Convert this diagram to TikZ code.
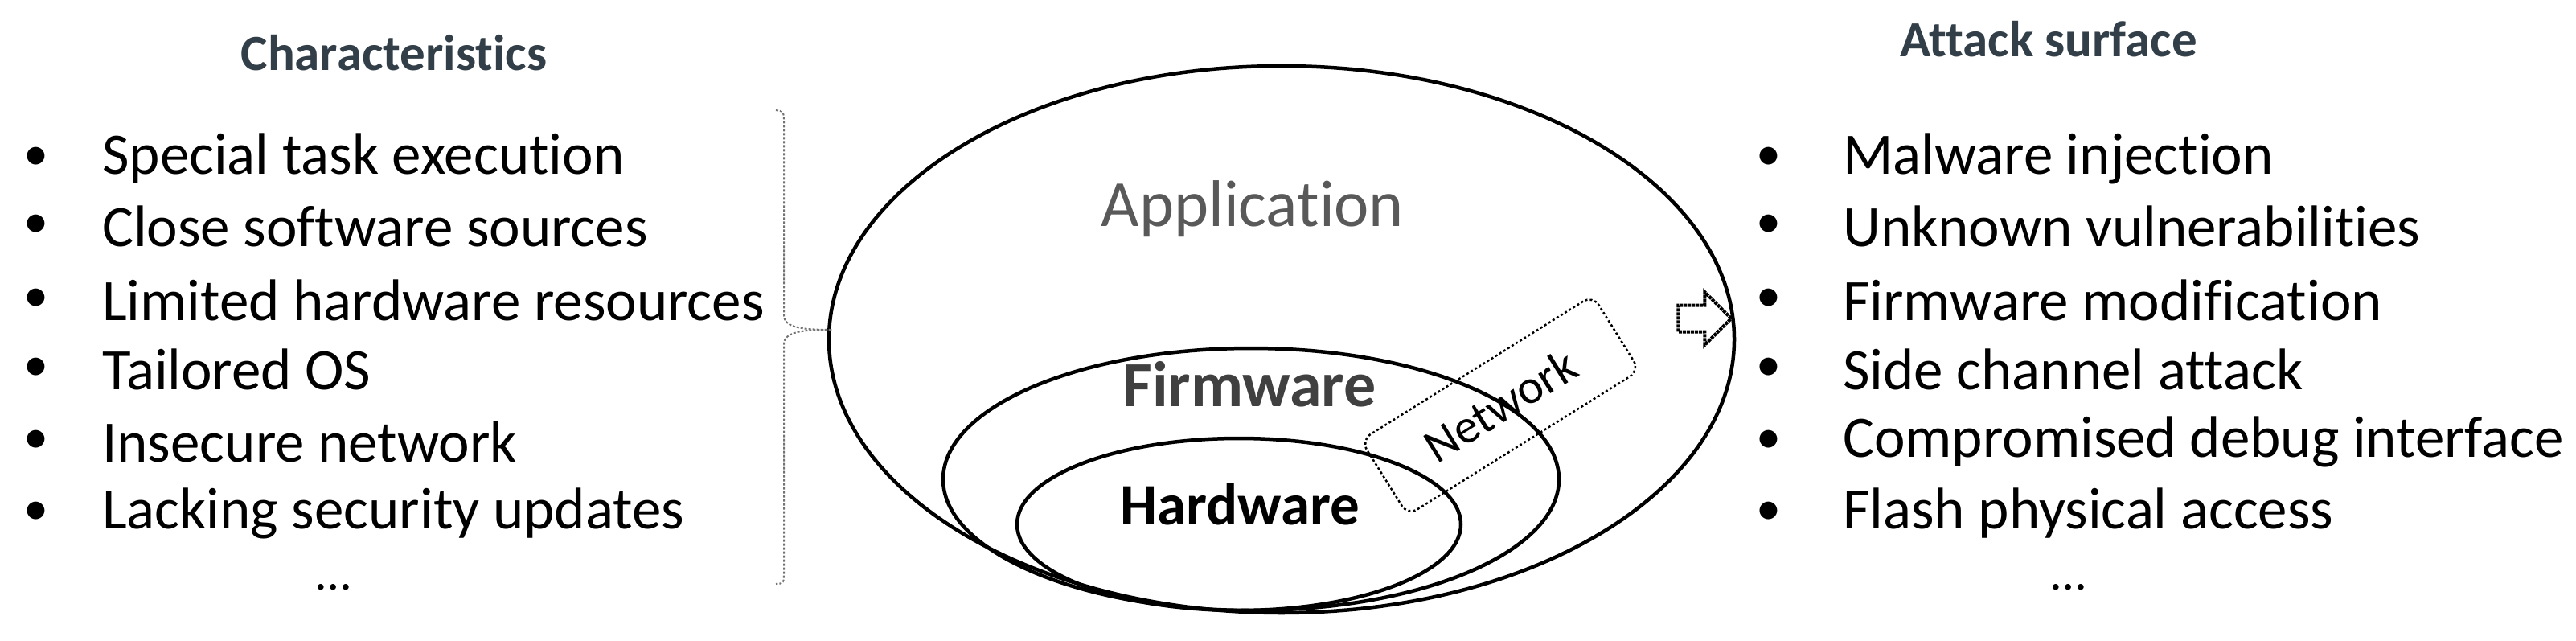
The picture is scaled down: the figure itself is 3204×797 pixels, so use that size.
\documentclass[tikz,border=0pt]{standalone}
\usepackage{fontspec}
\setmainfont{Carlito}[Ligatures=NoCommon]
\usetikzlibrary{positioning}
\usetikzlibrary{calc}
\usetikzlibrary{shapes,shapes.arrows}

\tikzset{
item/.style={anchor=west,font=\fontsize{73}{73}\selectfont,inner sep=0pt},
dot/.style={font=\fontsize{62}{62}\selectfont,inner sep=0pt},
title/.style={font=\bfseries\fontsize{63}{63}\selectfont,text=titlegray},
layer/.style={draw,line width=4.5pt,ellipse}
}
\definecolor{titlegray}{HTML}{333F48}

\begin{document}
\begin{tikzpicture}[x=1pt,y=-1pt]
\useasboundingbox (0,0) rectangle (3204,797);

\node[title](charT) at (490,66){Characteristics};
\node[title](attT) at (2548,49){Attack surface};

\node[dot](c1) at (45,197){\textbullet};
\node[dot](c2) at (45,281){\textbullet};
\node[dot](c3) at (45,373){\textbullet};
\node[dot](c4) at (45,459){\textbullet};
\node[dot](c5) at (45,549){\textbullet};
\node[dot](c6) at (45,638){\textbullet};
\node[item](t1) at (127,197){Special task execution};
\node[item](t2) at (127,281){Close software sources};
\node[item](t3) at (127,373){Limited hardware resources};
\node[item](t4) at (127,459){Tailored OS};
\node[item](t5) at (127,549){Insecure network};
\node[item](t6) at (127,638){Lacking security updates};
\node[dot](cmore) at (415,730){\dots};

\node[dot](a1) at (2200,197){\textbullet};
\node[dot](a2) at (2200,281){\textbullet};
\node[dot](a3) at (2200,373){\textbullet};
\node[dot](a4) at (2200,459){\textbullet};
\node[dot](a5) at (2200,549){\textbullet};
\node[dot](a6) at (2200,638){\textbullet};
\node[item](s1) at (2292,197){Malware injection};
\node[item](s2) at (2292,281){Unknown vulnerabilities};
\node[item](s3) at (2292,373){Firmware modification};
\node[item](s4) at (2292,459){Side channel attack};
\node[item](s5) at (2292,549){Compromised debug interface};
\node[item](s6) at (2292,638){Flash physical access};
\node[dot](amore) at (2573,730){\dots};

% layers
\node[layer,minimum width=1126pt,minimum height=680pt](app) at (1594,422){};
\node[layer,minimum width=766pt,minimum height=326pt](fw) at (1556,596){};
\node[layer,minimum width=552pt,minimum height=214pt](hw) at (1541,652){};
\node[text=black!65,font=\fontsize{82}{82}\selectfont](appT) at (1558,260){Application};
\node[text=black!75,font=\bfseries\fontsize{80}{80}\selectfont](fwT) at (1554,478){Firmware};
\node[font=\bfseries\fontsize{73}{73}\selectfont](hwT) at (1542,627){Hardware};
\node[draw,dashed,line width=2.5pt,rounded corners=14pt,rotate=32,minimum width=340pt,minimum height=110pt,font=\fontsize{60}{60}\selectfont](net) at (1866,504){Network};

% brace
\draw[black!55,densely dashed,line width=2pt] (965,137) .. controls (975,138) and (975,140) .. (975,150)
 -- (975,392) .. controls (975,408) and (1000,410) .. (1035,410)
 .. controls (1000,410) and (975,412) .. (975,428)
 -- (975,712) .. controls (975,724) and (975,726) .. (965,726);

\node[single arrow,draw,densely dotted,line width=4pt,minimum width=66pt,single arrow head extend=8pt,minimum height=66pt,inner sep=6pt](arr) at (2112,396){};
\end{tikzpicture}
\end{document}
